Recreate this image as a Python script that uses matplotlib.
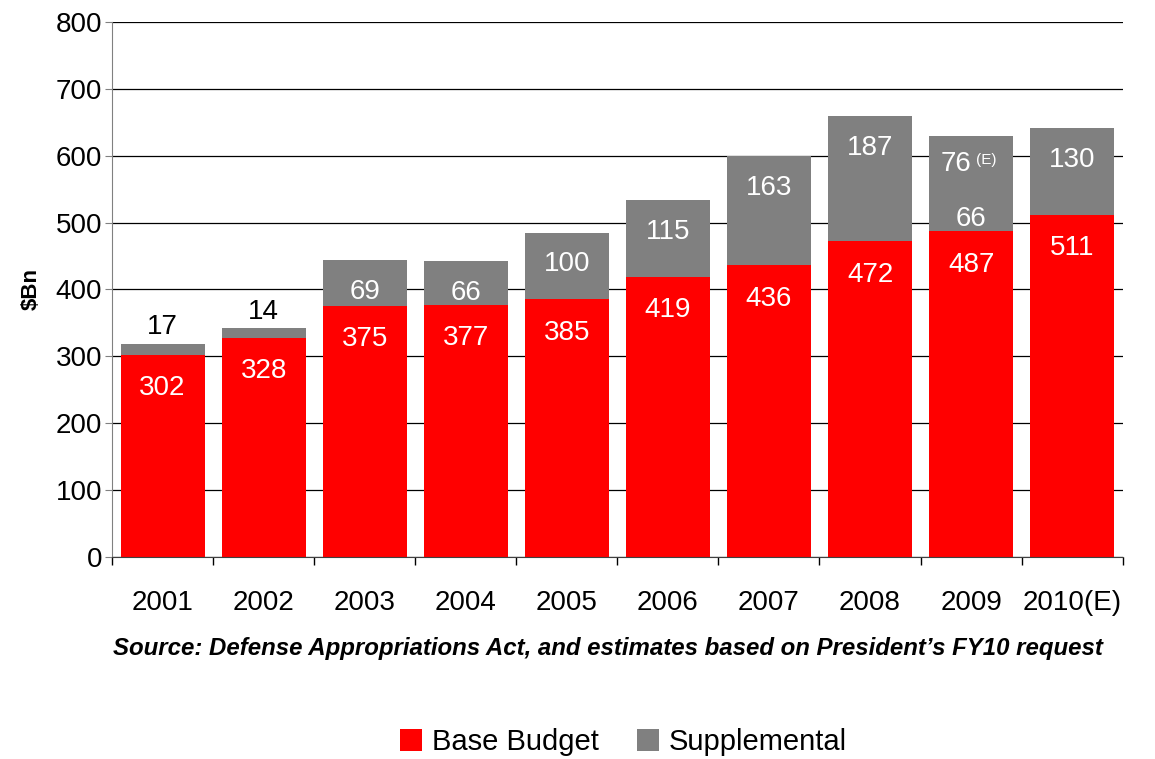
import numpy as np
import matplotlib.pyplot as plt

plt.rcParams['font.family'] = ['Liberation Sans', 'DejaVu Sans']

years = ['2001', '2002', '2003', '2004', '2005', '2006', '2007', '2008', '2009', '2010(E)']
base = [302, 328, 375, 377, 385, 419, 436, 472, 487, 511]
supp = [17, 14, 69, 66, 100, 115, 163, 187, 66, 130]
# extra estimated supplemental for 2009 only
supp_est = [0, 0, 0, 0, 0, 0, 0, 0, 76, 0]

red = '#ff0000'
grey = '#808080'

fig = plt.figure(figsize=(11.55, 7.59), dpi=100)
ax = fig.add_axes([0.097, 0.2662, 0.875, 0.705])

x = np.arange(len(years))
w = 0.83
base = np.array(base)
supp = np.array(supp)
supp_est = np.array(supp_est)

ax.bar(x, base, w, color=red, label='Base Budget', zorder=2)
ax.bar(x, supp, w, bottom=base, color=grey, label='Supplemental', zorder=2)
ax.bar(x, supp_est, w, bottom=base + supp, color=grey, zorder=2)

fs = 20
# value labels
for i in range(len(years)):
    ax.annotate(str(base[i]), (x[i], base[i]), xytext=(0, -24), textcoords='offset points',
                ha='center', va='center', color='white', fontsize=fs)
    top = base[i] + supp[i]
    if supp[i] < 30:
        ax.annotate(str(supp[i]), (x[i], top), xytext=(0, 12), textcoords='offset points',
                    ha='center', va='center', color='black', fontsize=fs)
    else:
        ax.annotate(str(supp[i]), (x[i], top), xytext=(0, -23), textcoords='offset points',
                    ha='center', va='center', color='white', fontsize=fs)
    if supp_est[i] > 0:
        ax.annotate(str(supp_est[i]), (x[i] + 0.0, top + supp_est[i]), xytext=(0, -20),
                    textcoords='offset points', ha='right', va='center', color='white', fontsize=fs)
        ax.annotate('(E)', (x[i] + 0.05, top + supp_est[i]), xytext=(0, -17),
                    textcoords='offset points', ha='left', va='center', color='white', fontsize=11)

ax.set_xlim(-0.5, len(years) - 0.5)
ax.set_ylim(0, 800)
ax.set_yticks(np.arange(0, 801, 100))
ax.yaxis.grid(True, color='black', linewidth=0.9, zorder=0)
ax.set_axisbelow(True)
ax.tick_params(axis='y', labelsize=fs, length=5, color=grey, pad=2)

ax.set_xticks(x)
ax.set_xticklabels(years, fontsize=fs)
ax.tick_params(axis='x', which='major', length=0, pad=24)
ax.set_xticks(np.arange(-0.5, len(years), 1), minor=True)
ax.tick_params(axis='x', which='minor', length=6, color='black', width=1)

for s in ['top', 'right']:
    ax.spines[s].set_visible(False)
ax.spines['left'].set_color(grey)
ax.spines['bottom'].set_color('#404040')

ax.set_ylabel('\\$Bn', fontsize=16, fontweight='bold', labelpad=10)

fig.text(0.526, 0.146, 'Source: Defense Appropriations Act, and estimates based on President\u2019s FY10 request',
         ha='center', va='center', fontsize=17.3, fontweight='bold', fontstyle='italic')

fig.legend(loc='center', bbox_to_anchor=(0.540, 0.022), ncol=2, frameon=False, fontsize=21,
           handlelength=0.75, handleheight=0.75, handletextpad=0.35, columnspacing=1.3)

fig.savefig('out.png', dpi=100)
